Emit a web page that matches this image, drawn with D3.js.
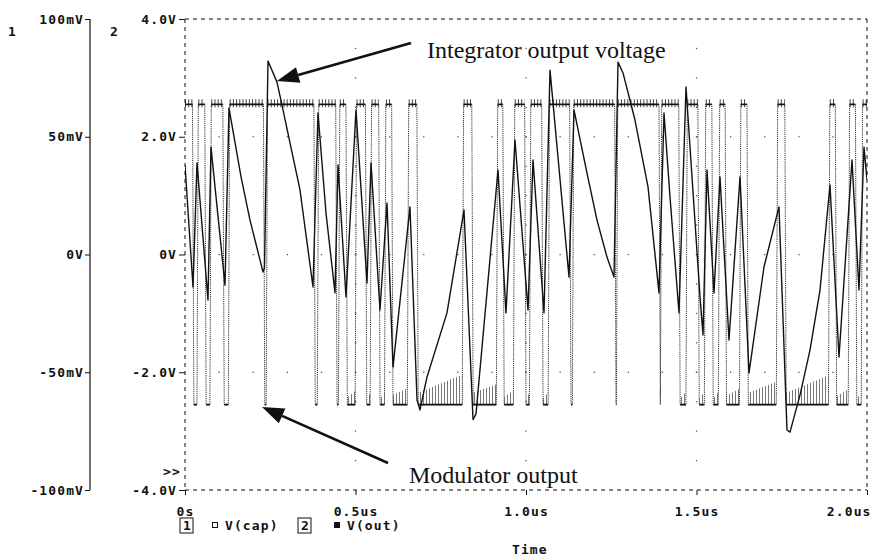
<!DOCTYPE html>
<html>
<head>
<meta charset="utf-8">
<script src="https://cdn.jsdelivr.net/npm/d3@7"></script>
<style>
  body { margin: 0; background: #fff; }
  svg { display: block; }
  .mono { font-family: "DejaVu Sans Mono", monospace; font-weight: bold; font-size: 13px; letter-spacing: 1.1px; fill: #111; }
  .serif { font-family: "Liberation Serif", "Times New Roman", serif; font-size: 24px; fill: #111; }
</style>
</head>
<body>
<svg id="chart" width="875" height="556"></svg>
<script>
// ---------------- data ----------------
const timeTicks = [0, 0.5, 1.0, 1.5, 2.0];
const timeTickLabels = ["0s", "0.5us", "1.0us", "1.5us", "2.0us"];
const capTicks = [100, 50, 0, -50, -100];
const capTickLabels = ["100mV", "50mV", "0V", "-50mV", "-100mV"];
const outTicks = [4, 2, 0, -2, -4];
const outTickLabels = ["4.0V", "2.0V", "0V", "-2.0V", "-4.0V"];
const gridTimes = [0.1, 0.2, 0.3, 0.4, 0.5, 0.6, 0.7, 0.8, 0.9, 1.0, 1.1, 1.2, 1.3, 1.4, 1.5, 1.6, 1.7, 1.8, 1.9];
const gridVolts = [-3.5, -3, -2.5, -2, -1.5, -1, -0.5, 0, 0.5, 1, 1.5, 2, 2.5, 3, 3.5];

// V(out): comparator levels (V) and switching instants (us); starts high, toggles at each edge
const outHigh = 2.55;
const outLow = -2.55;
const outEdges = [0.024, 0.037, 0.060, 0.075, 0.113, 0.129, 0.232, 0.240, 0.380, 0.390,
  0.444, 0.452, 0.474, 0.501, 0.531, 0.545, 0.570, 0.587, 0.608, 0.654,
  0.682, 0.815, 0.843, 0.915, 0.934, 0.965, 0.998, 1.012, 1.048, 1.067,
  1.130, 1.138, 1.262, 1.267, 1.392, 1.396, 1.450, 1.471, 1.506, 1.525,
  1.547, 1.566, 1.586, 1.628, 1.650, 1.736, 1.761, 1.889, 1.909, 1.947,
  1.968, 1.985];

// V(cap): integrator output, time (us) and value (mV)
const capTime = [0.000, 0.0235, 0.0352, 0.0674, 0.0762, 0.1173, 0.1290, 0.1642, 0.1906, 0.2287,
  0.2331, 0.2434, 0.2698, 0.2874, 0.3372, 0.3754, 0.3900, 0.4135, 0.4399, 0.4487,
  0.4721, 0.5015, 0.5337, 0.5455, 0.5718, 0.5924, 0.6100, 0.6598, 0.6804, 0.6891,
  0.7097, 0.7683, 0.8182, 0.8446, 0.8534, 0.9179, 0.9413, 0.9677, 1.0059, 1.0205,
  1.0528, 1.0704, 1.1261, 1.1408, 1.1789, 1.2082, 1.2375, 1.2581, 1.2698, 1.2845,
  1.3196, 1.3578, 1.3900, 1.4047, 1.4223, 1.4487, 1.4692, 1.5103, 1.5191, 1.5308,
  1.5513, 1.5689, 1.5953, 1.6276, 1.6540, 1.6979, 1.7419, 1.7654, 1.7742, 1.8035,
  1.8328, 1.8622, 1.8915, 1.9179, 1.9560, 1.9765, 1.9912, 2.000];
const capValue = [38.0, -13.8, 38.9, -19.3, 45.6, -13.0, 62.2, 33.1, 14.6, -7.4,
  -5.7, 82.2, 73.2, 61.4, 27.4, -13.8, 60.1, 17.6, -16.3, 38.0,
  -18.0, 61.4, -12.1, 38.9, -23.6, 21.9, -47.8, 20.2, -61.8, -66.0,
  -52.0, -24.8, 18.9, -70.1, -67.7, 35.9, -24.8, 48.6, -23.6, 40.1,
  -24.8, 78.3, -9.6, 61.4, 34.6, 14.6, -1.1, -9.6, 81.7, 77.1,
  57.1, 28.7, -16.3, 60.1, 24.4, -24.8, 71.1, -18.0, -34.2, 35.9,
  -16.3, 32.9, -36.3, 32.9, -50.3, -5.3, 20.2, -74.5, -75.4, -59.7,
  -40.6, -15.1, 29.5, -43.5, 40.1, -15.1, 45.6, 31.6];

// ---------------- layout ----------------
const svg = d3.select("#chart");
const L = 185, R = 867, T = 19, B = 490;
const x = d3.scaleLinear().domain([0, 2]).range([L, R]);
const yOut = d3.scaleLinear().domain([-4, 4]).range([B, T]);
const yCap = d3.scaleLinear().domain([-100, 100]).range([B, T]);

const defs = svg.append("defs");
const pat = defs.append("pattern").attr("id", "ripple")
  .attr("width", 3).attr("height", 60).attr("patternUnits", "userSpaceOnUse");
pat.append("rect").attr("x", 0).attr("y", 0).attr("width", 1).attr("height", 60).attr("fill", "#777");
defs.append("clipPath").attr("id", "plotClip").append("rect")
  .attr("x", L).attr("y", T - 2).attr("width", R - L).attr("height", B - T + 4);

// dotted grid
const gridG = svg.append("g").attr("fill", "#555");
[-2, 0, 2].forEach(v => {
  gridTimes.forEach(t => {
    gridG.append("rect").attr("x", x(t) - 0.6).attr("y", yOut(v) - 0.6).attr("width", 1.3).attr("height", 1.3);
  });
});
[0.5, 1.0, 1.5].forEach(t => {
  gridVolts.forEach(v => {
    gridG.append("rect").attr("x", x(t) - 0.6).attr("y", yOut(v) - 0.6).attr("width", 1.3).attr("height", 1.3);
  });
});

// ---------------- V(out) ----------------
const slew = 0.004;
const outPts = [[0, outHigh]];
const highSegs = [], lowSegs = [];
let level = outHigh, segStart = 0;
outEdges.forEach(t => {
  const next = level === outHigh ? outLow : outHigh;
  outPts.push([t - slew / 2, level]);
  outPts.push([t + slew / 2, next]);
  (level === outHigh ? highSegs : lowSegs).push([segStart, t - slew / 2]);
  segStart = t + slew / 2;
  level = next;
});
outPts.push([2, level]);
(level === outHigh ? highSegs : lowSegs).push([segStart, 2]);

const plot = svg.append("g").attr("clip-path", "url(#plotClip)");

// switching noise riding on the low level
lowSegs.filter(s => s[0] > 0.47).forEach(s => {
  const x0 = x(s[0]), x1 = x(s[1]), w = x1 - x0;
  const h0 = Math.min(12, 4 + w * 0.4), h1 = Math.min(32, 10 + w * 0.45);
  const yl = yOut(outLow);
  plot.append("path")
    .attr("d", `M${x0},${yl}L${x0},${yl - h0}L${x1},${yl - h1}L${x1},${yl}Z`)
    .attr("fill", "url(#ripple)");
});

const lineOut = d3.line().x(d => x(d[0])).y(d => yOut(d[1]));
plot.append("path").datum(outPts).attr("d", lineOut)
  .attr("fill", "none").attr("stroke", "#333").attr("stroke-width", 1)
  .attr("stroke-dasharray", "1.2,0.9");

highSegs.forEach(s => {
  plot.append("line").attr("x1", x(s[0])).attr("x2", x(s[1]))
    .attr("y1", yOut(outHigh) - 1).attr("y2", yOut(outHigh) - 1)
    .attr("stroke", "#444").attr("stroke-width", 8).attr("stroke-dasharray", "1,2.2");
  plot.append("line").attr("x1", x(s[0])).attr("x2", x(s[1]))
    .attr("y1", yOut(outHigh)).attr("y2", yOut(outHigh))
    .attr("stroke", "#111").attr("stroke-width", 1.6);
});
lowSegs.forEach(s => {
  plot.append("line").attr("x1", x(s[0])).attr("x2", x(s[1]))
    .attr("y1", yOut(outLow)).attr("y2", yOut(outLow))
    .attr("stroke", "#111").attr("stroke-width", 1.8);
});

// ---------------- V(cap) ----------------
const capPts = capTime.map((t, i) => [t, capValue[i]]);
const lineCap = d3.line().x(d => x(d[0])).y(d => yCap(d[1]));
plot.append("path").datum(capPts).attr("d", lineCap)
  .attr("fill", "none").attr("stroke", "#111").attr("stroke-width", 1.4)
  .attr("stroke-linejoin", "round");

// ---------------- frame and axes ----------------
const frame = svg.append("g").attr("stroke", "#111").attr("stroke-width", 1).attr("stroke-dasharray", "4,4").attr("fill", "none");
frame.append("line").attr("x1", L).attr("x2", R).attr("y1", T).attr("y2", T);
frame.append("line").attr("x1", L).attr("x2", R).attr("y1", B).attr("y2", B);
frame.append("line").attr("x1", L).attr("x2", L).attr("y1", T).attr("y2", B);
frame.append("line").attr("x1", R).attr("x2", R).attr("y1", T).attr("y2", B);

function styleAxis(g) {
  g.select(".domain").remove();
  g.selectAll(".tick line").attr("stroke", "#111").attr("stroke-width", 1);
  g.selectAll(".tick text").attr("class", "mono").attr("fill", "#111");
}

// axis 2 (V(out))
const ax2 = svg.append("g").attr("transform", `translate(${L},0)`)
  .call(d3.axisLeft(yOut).tickValues(outTicks).tickFormat((d, i) => outTickLabels[i]).tickSize(6).tickPadding(2));
styleAxis(ax2);
ax2.selectAll(".tick text").attr("font-family", null);

// axis 1 (V(cap))
const ax1X = 90;
const ax1 = svg.append("g").attr("transform", `translate(${ax1X},0)`)
  .call(d3.axisLeft(yCap).tickValues(capTicks).tickFormat((d, i) => capTickLabels[i]).tickSize(5).tickPadding(1));
styleAxis(ax1);
svg.append("line").attr("x1", ax1X).attr("x2", ax1X).attr("y1", T).attr("y2", B)
  .attr("stroke", "#111").attr("stroke-width", 1.2);

// time axis
const axT = svg.append("g").attr("transform", `translate(0,${B})`)
  .call(d3.axisBottom(x).tickValues(timeTicks).tickFormat((d, i) => timeTickLabels[i]).tickSize(5).tickPadding(12));
styleAxis(axT);
axT.selectAll(".tick text").filter(d => d === 2).attr("text-anchor", "end").attr("dx", 4);

// axis numbers and overflow marker
svg.append("text").attr("class", "mono").attr("x", 8).attr("y", 36).text("1");
svg.append("text").attr("class", "mono").attr("x", 110).attr("y", 36).text("2");
svg.append("text").attr("class", "mono").attr("x", 163).attr("y", 476).text(">>");

// legend
const leg = svg.append("g");
function legendBox(x0, label) {
  leg.append("rect").attr("x", x0).attr("y", 518).attr("width", 13).attr("height", 15)
    .attr("fill", "none").attr("stroke", "#111").attr("stroke-width", 1);
  leg.append("text").attr("class", "mono").attr("x", x0 + 3).attr("y", 530).text(label);
}
legendBox(180, "1");
leg.append("rect").attr("x", 212.5).attr("y", 522.5).attr("width", 5).attr("height", 5)
  .attr("fill", "none").attr("stroke", "#111").attr("stroke-width", 1);
leg.append("text").attr("class", "mono").attr("x", 225).attr("y", 530).text("V(cap)");
legendBox(298, "2");
leg.append("rect").attr("x", 334).attr("y", 522).attr("width", 6).attr("height", 6).attr("fill", "#111");
leg.append("text").attr("class", "mono").attr("x", 347).attr("y", 530).text("V(out)");
svg.append("text").attr("class", "mono").attr("x", 512).attr("y", 554).text("Time");

// ---------------- annotations ----------------
function arrow(x1, y1, x2, y2) {
  const ang = Math.atan2(y2 - y1, x2 - x1);
  const len = 22, half = 8;
  const bx = x2 - len * Math.cos(ang), by = y2 - len * Math.sin(ang);
  svg.append("line").attr("x1", x1).attr("y1", y1).attr("x2", bx).attr("y2", by)
    .attr("stroke", "#111").attr("stroke-width", 2.6);
  const px = -Math.sin(ang) * half, py = Math.cos(ang) * half;
  svg.append("path")
    .attr("d", `M${x2},${y2}L${bx + px},${by + py}L${bx - px},${by - py}Z`)
    .attr("fill", "#111");
}
arrow(411, 43, 277, 81);
arrow(388, 463, 262, 407);
svg.append("text").attr("class", "serif").attr("x", 427).attr("y", 58).text("Integrator output voltage");
svg.append("text").attr("class", "serif").attr("x", 409).attr("y", 483).text("Modulator output");
</script>
</body>
</html>
